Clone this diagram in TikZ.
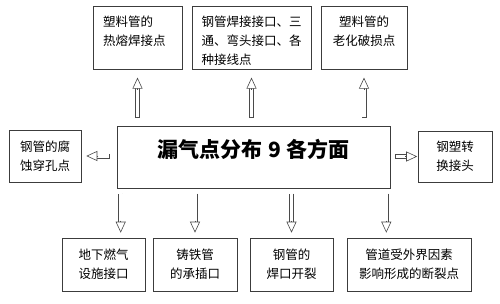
\documentclass[tikz,border=0pt]{standalone}
\usepackage{fontspec}
\setmainfont{Noto Sans CJK SC}
\usetikzlibrary{arrows.meta,positioning,calc}
\definecolor{boxgray}{HTML}{3C3C3C}
\definecolor{arrgray}{HTML}{4A4A4A}

% hollow block arrow: from, to, gap at from, gap at to
\newcommand{\hollowarrow}[4]{%
  \draw[shaft] ($(#1)!#3!(#2)$) -- ($(#2)!#4+10.5pt!(#1)$);
  \draw[head] ($(#2)!#4+12pt!(#1)$) -- ($(#2)!#4!(#1)$);}

\begin{document}
\begin{tikzpicture}[
  x=1pt, y=-1pt,
  box/.style={rectangle, draw=boxgray, line width=0.6pt, inner sep=0pt,
              font=\fontsize{12.5}{19}\selectfont, align=center},
  topbox/.style={box, anchor=north, inner xsep=10pt,
              text height=20.5pt, text depth=42.5pt},
  sidebox/.style={box, minimum width=#1, minimum height=52pt},
  shaft/.style={draw=arrgray, line width=5pt,
              postaction={draw=white, line width=3.8pt, shorten <=0.6pt}},
  head/.style={draw=arrgray, line width=0.6pt,
              -{Triangle[open, fill=white, length=11pt, width=10pt]}},
]
\useasboundingbox (0,0) rectangle (500,303);

% Top row
\node[topbox, align=left, text width=69pt] (u1) at (137.5,6) {塑料管的\\热熔焊接点};
\node[topbox, align=left, text width=100pt, inner xsep=9.5pt] (u2) at (251.5,6)
  {钢管焊接接口、三\\通、弯头接口、各\\种接线点};
\node[topbox, text width=66pt] (u3) at (364,6) {塑料管的\\老化破损点};

% Central box
\node[box, anchor=north, minimum width=273pt, text height=31.6pt, text depth=30.4pt,
      font=\fontsize{21}{24}\selectfont\bfseries] (c) at (253.5,126)
  {漏气点分布\hspace{6pt}9\hspace{6pt}各方面};
\coordinate (cl) at ([xshift=4pt]c.south west);
\coordinate (cr) at ([xshift=-4pt]c.south east);

% Left and right
\node[sidebox=72pt] (lf) at (45,156) {钢管的腐\\蚀穿孔点};
\node[sidebox=74pt, minimum height=51pt] (rt) at (455,156.5) {钢塑转\\换接头};

% Bottom row
\node[sidebox=83pt, minimum height=53pt] (d1) at (103.5,264.5) {地下燃气\\设施接口};
\node[sidebox=84pt, minimum height=53pt] (d2) at (195,264.5) {铸铁管\\的承插口};
\node[sidebox=83pt, minimum height=53pt] (d3) at (291.5,264.5) {钢管的\\焊口开裂};
\node[sidebox=124pt, minimum height=53pt] (d4) at (409,264.5) {管道受外界因素\\影响形成的断裂点};

% Arrows
\hollowarrow{c.north -| u1.south}{u1.south}{8pt}{8pt}
\hollowarrow{c.north -| u2.south}{u2.south}{8pt}{8pt}
\hollowarrow{c.north -| u3.south}{u3.south}{8pt}{8pt}
\hollowarrow{c.west |- lf.east}{lf.east}{7pt}{5pt}
\hollowarrow{c.east |- rt.west}{rt.west}{5pt}{0.5pt}
\hollowarrow{cl}{cl |- d1.north}{5pt}{5pt}
\hollowarrow{c.south -| d2.north}{d2.north}{5pt}{5pt}
\hollowarrow{c.south -| d3.north}{d3.north}{5pt}{5pt}
\hollowarrow{cr}{cr |- d4.north}{5pt}{5pt}

\end{tikzpicture}
\end{document}
